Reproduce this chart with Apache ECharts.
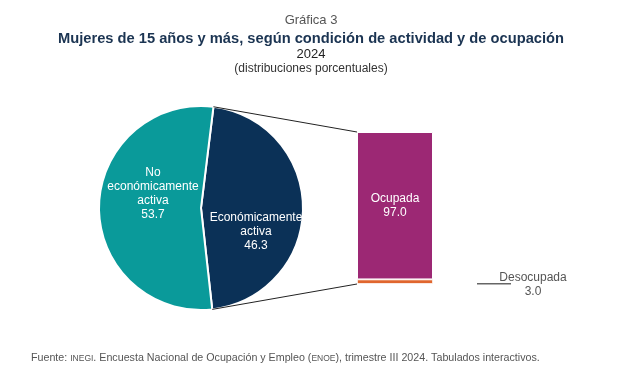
<!DOCTYPE html>
<html><head><meta charset="utf-8">
<script src="https://cdn.jsdelivr.net/npm/echarts@6/dist/echarts.min.js"></script>
<style>html,body{margin:0;padding:0;background:#fff}#c{width:622px;height:380px}</style>
</head><body><div id="c"></div>
<script>
const pieNames = ['Económicamente\nactiva', 'No\neconómicamente\nactiva'];
const pieValues = [46.3, 53.7];
const barCategories = ['Económicamente activa'];
const barNames = ['Ocupada', 'Desocupada'];
const ocupadaValues = [97.0];
const desocupadaValues = [3.0];

const pieColors = ['#0B3157', '#0A9A9A'];
const pieCenter = [201, 208];
const pieRadius = 102;
const pieStart = 83;

const chart = echarts.init(document.getElementById('c'), null, {renderer: 'canvas'});
const font = 'Liberation Sans, Arial, sans-serif';
const option = {
  animation: false,
  title: [
    {text: 'Gráfica 3', left: 'center', top: 9, textStyle: {fontFamily: font, fontSize: 13, fontWeight: 'normal', color: '#555'}},
    {text: 'Mujeres de 15 años y más, según condición de actividad y de ocupación', left: 'center', top: 26, textStyle: {fontFamily: font, fontSize: 14.7, fontWeight: 'bold', color: '#1B3452'}},
    {text: '2024', left: 'center', top: 43, textStyle: {fontFamily: font, fontSize: 13, fontWeight: 'normal', color: '#222'}},
    {text: '(distribuciones porcentuales)', left: 'center', top: 58, textStyle: {fontFamily: font, fontSize: 12, fontWeight: 'normal', color: '#333'}},
    {text: 'Fuente: {sc|INEGI}. Encuesta Nacional de Ocupación y Empleo ({sc|ENOE}), trimestre III 2024. Tabulados interactivos.',
     left: 26, top: 348, textStyle: {fontFamily: font, fontSize: 10.7, fontWeight: 'normal', color: '#555',
       rich: {sc: {fontFamily: font, fontSize: 8.5, color: '#555'}}}}
  ],
  grid: {left: 357, right: 189, top: 132, bottom: 96},
  xAxis: {type: 'category', data: barCategories, show: false},
  yAxis: {type: 'value', min: 0, max: 100, show: false},
  series: [
    {
      type: 'pie', center: pieCenter, radius: pieRadius, startAngle: pieStart, clockwise: true,
      itemStyle: {borderColor: '#fff', borderWidth: 2},
      label: {position: 'inside', color: '#fff', fontFamily: font, fontSize: 12, lineHeight: 14,
        formatter: p => p.name + '\n' + p.value.toFixed(1)},
      labelLine: {show: false},
      data: pieValues.map((v, i) => ({
        name: pieNames[i], value: v, itemStyle: {color: pieColors[i]},
        label: {offset: i === 0 ? [1, 23] : [6, -14]}
      }))
    },
    {
      type: 'bar', name: barNames[1], stack: 's', barWidth: '100%', data: desocupadaValues,
      itemStyle: {color: '#E0662E', borderColor: '#fff', borderWidth: 0.8},
      label: {show: true, position: 'right', distance: 100, offset: [0, 3], align: 'center', color: '#555', fontFamily: font, fontSize: 12, lineHeight: 14,
        formatter: p => barNames[1] + '\n' + p.value.toFixed(1)}
    },
    {
      type: 'bar', name: barNames[0], stack: 's', barWidth: '100%', data: ocupadaValues,
      itemStyle: {color: '#9C2874', borderColor: '#fff', borderWidth: 1},
      label: {show: true, position: 'inside', color: '#fff', fontFamily: font, fontSize: 12, lineHeight: 14,
        formatter: p => barNames[0] + '\n' + p.value.toFixed(1)}
    }
  ]
};
chart.setOption(option);

// connecting lines computed from pie geometry and bar scale
const total = pieValues.reduce((a, b) => a + b, 0);
const a0 = pieStart * Math.PI / 180;
const a1 = (pieStart - 360 * pieValues[0] / total) * Math.PI / 180;
const pt = a => [pieCenter[0] + pieRadius * Math.cos(a), pieCenter[1] - pieRadius * Math.sin(a)];
const p0 = pt(a0), p1 = pt(a1);
const barTop = chart.convertToPixel({gridIndex: 0}, [0, 100]);
const barBot = chart.convertToPixel({gridIndex: 0}, [0, 0]);
const bandLeft = 357;
const desoY = chart.convertToPixel({gridIndex: 0}, [0, desocupadaValues[0] / 2]);
chart.setOption({
  graphic: [
    {type: 'line', shape: {x1: p0[0], y1: p0[1], x2: bandLeft, y2: barTop[1]}, style: {stroke: '#222', lineWidth: 1}, z: 100},
    {type: 'line', shape: {x1: p1[0], y1: p1[1], x2: bandLeft, y2: barBot[1]}, style: {stroke: '#222', lineWidth: 1}, z: 100},
    {type: 'line', shape: {x1: 477, y1: desoY[1] + 2, x2: 511, y2: desoY[1] + 2}, style: {stroke: '#666', lineWidth: 1.5}, z: 100}
  ]
});
</script></body></html>
